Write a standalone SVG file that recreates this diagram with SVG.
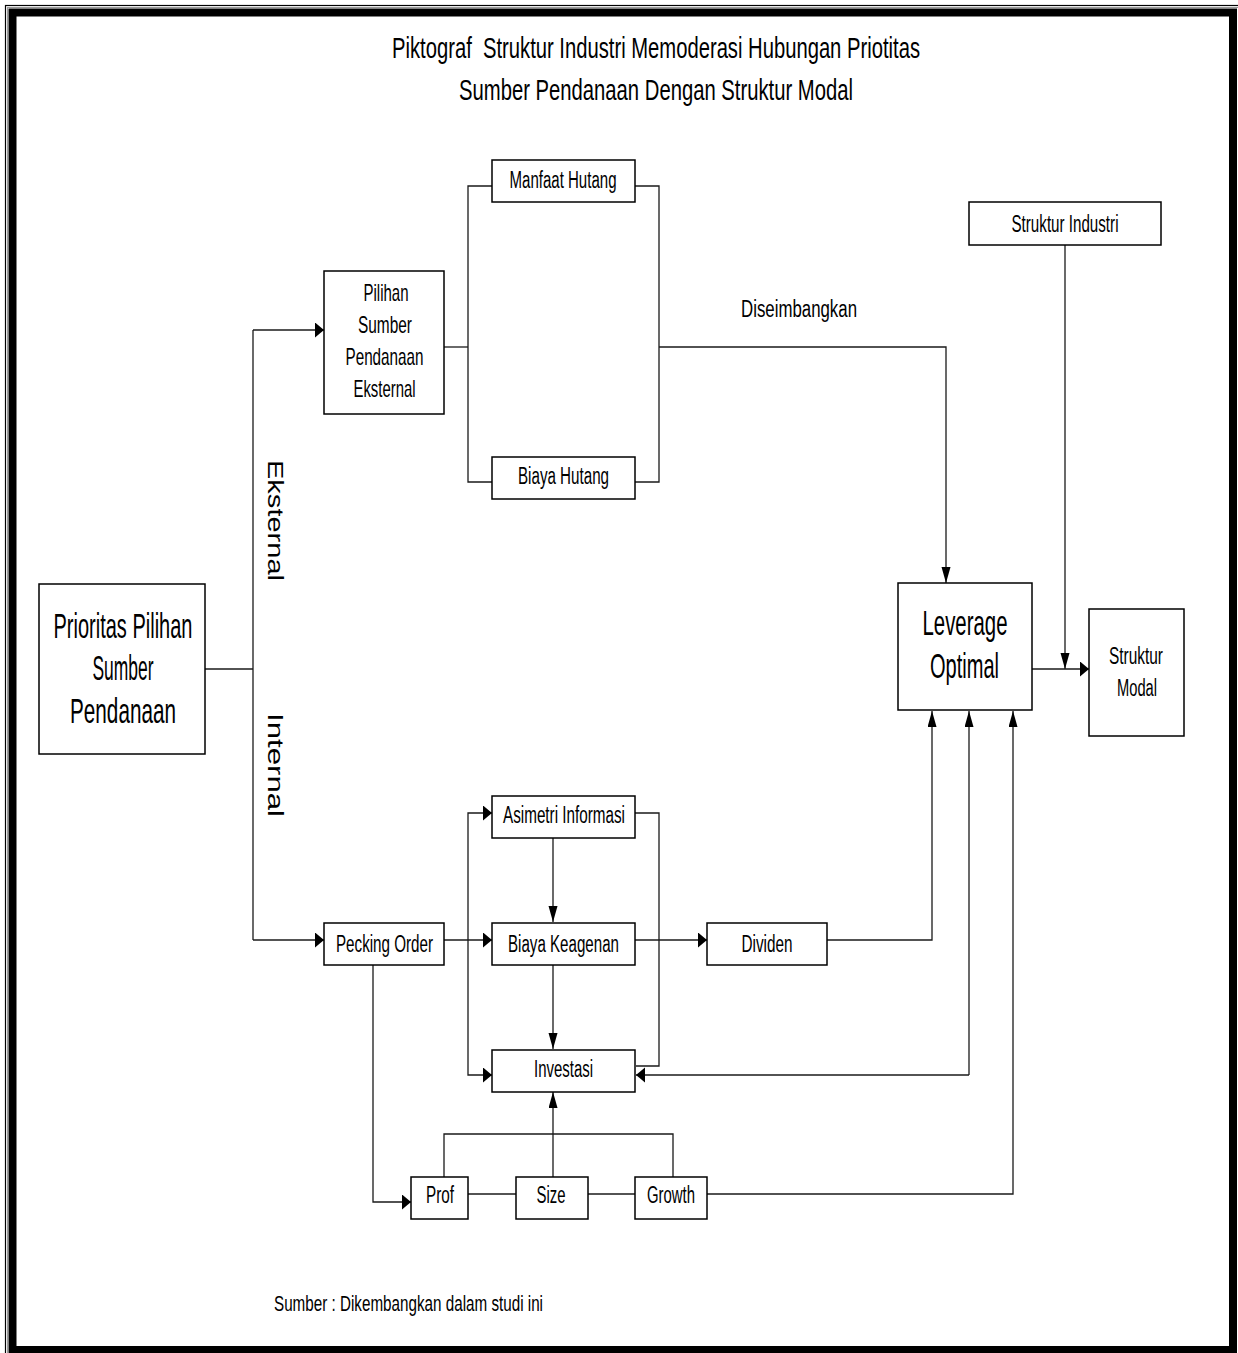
<svg xmlns="http://www.w3.org/2000/svg" width="1238" height="1353" viewBox="0 0 1238 1353">
  <style>
    .box { fill: #ffffff; stroke: #000000; stroke-width: 1.5; }
    .lbl { font-family: "Liberation Sans", Arial, sans-serif; font-size: 23px; fill: #000000; text-anchor: middle; }
    .big { font-size: 35px; }
    .ttl { font-family: "Liberation Sans", Arial, sans-serif; font-size: 30px; fill: #000000; text-anchor: middle; }
    .free { font-family: "Liberation Sans", Arial, sans-serif; font-size: 23px; fill: #000000; }
    .side { font-family: "Liberation Sans", Arial, sans-serif; font-size: 22px; fill: #000000; }
    .wire { fill: none; stroke: #1a1a1a; stroke-width: 1.3; }
    .ah { marker-end: url(#arrowH); }
    .av { marker-end: url(#arrowV); }
  </style>
  <defs>
    <!-- short, wide head for horizontal runs -->
    <marker id="arrowH" markerUnits="userSpaceOnUse" markerWidth="10" markerHeight="16" refX="9" refY="7.5" orient="auto">
      <path d="M0,0 L9,7.5 L0,15 z" fill="#000000"/>
    </marker>
    <!-- long, narrow head for vertical runs -->
    <marker id="arrowV" markerUnits="userSpaceOnUse" markerWidth="17" markerHeight="10" refX="16" refY="4.5" orient="auto">
      <path d="M0,0 L16,4.5 L0,9 z" fill="#000000"/>
    </marker>
  </defs>

  <rect x="0" y="0" width="1238" height="1353" fill="#ffffff"/>

  <!-- page frame -->
  <g id="frame">
    <rect x="5.5" y="5.5" width="1240" height="1360" fill="none" stroke="#000000" stroke-width="1.2"/>
    <rect x="7.5" y="7.5" width="1236" height="1356" fill="none" stroke="#9a9a9a" stroke-width="1"/>
    <rect x="12.5" y="12.5" width="1220.5" height="1337.5" fill="none" stroke="#000000" stroke-width="8"/>
  </g>

  <!-- title -->
  <g id="title">
    <text class="ttl" xml:space="preserve" x="656" y="58" textLength="528" lengthAdjust="spacingAndGlyphs">Piktograf  Struktur Industri Memoderasi Hubungan Priotitas</text>
    <text class="ttl" x="656" y="100" textLength="394" lengthAdjust="spacingAndGlyphs">Sumber Pendanaan Dengan Struktur Modal</text>
  </g>

  <!-- connectors -->
  <g id="connectors">
    <path class="wire" d="M205,669 H253"/>
    <path class="wire" d="M253,669 V330"/>
    <path class="wire" d="M253,669 V940"/>
    <path class="wire ah" d="M253,330 H324"/>
    <path class="wire ah" d="M253,940 H324"/>

    <path class="wire" d="M444,347 H468"/>
    <path class="wire" d="M492,186 H468 V482 H492"/>
    <path class="wire" d="M635,186 H659 V482 H635"/>
    <path class="wire av" d="M659,347 H946 V583"/>

    <path class="wire av" d="M1065,245 V669"/>
    <path class="wire ah" d="M1032,669 H1089"/>

    <path class="wire ah" d="M444,940 H492"/>
    <path class="wire ah" d="M468,940 V813 H492"/>
    <path class="wire ah" d="M468,940 V1075 H492"/>
    <path class="wire av" d="M553,838 V922"/>
    <path class="wire av" d="M553,965 V1049"/>
    <path class="wire" d="M635,813 H659 V1066 H636"/>
    <path class="wire ah" d="M635,940 H707"/>

    <path class="wire av" d="M827,940 H932 V711"/>
    <path class="wire av" d="M969,1075 V711"/>
    <path class="wire ah" d="M969,1075 H636"/>
    <path class="wire av" d="M707,1194 H1013 V711"/>

    <path class="wire" d="M468,1194 H516"/>
    <path class="wire" d="M588,1194 H635"/>
    <path class="wire" d="M444,1177 V1134 H673 V1177"/>
    <path class="wire av" d="M553,1177 V1092"/>
    <path class="wire ah" d="M373,965 V1202 H411"/>
  </g>

  <!-- branch labels -->
  <g id="labels">
    <text class="side" transform="translate(268,460) rotate(90)" textLength="121" lengthAdjust="spacingAndGlyphs">Eksternal</text>
    <text class="side" transform="translate(268,713) rotate(90)" textLength="104" lengthAdjust="spacingAndGlyphs">Internal</text>
    <text class="free" x="741" y="317" textLength="116" lengthAdjust="spacingAndGlyphs">Diseimbangkan</text>
  </g>

  <!-- nodes -->
  <g id="prioritas">
    <rect class="box" x="39" y="584" width="166" height="170"/>
    <text class="lbl big" x="123" y="638" textLength="139" lengthAdjust="spacingAndGlyphs">Prioritas Pilihan</text>
    <text class="lbl big" x="123" y="680" textLength="61" lengthAdjust="spacingAndGlyphs">Sumber</text>
    <text class="lbl big" x="123" y="723" textLength="106" lengthAdjust="spacingAndGlyphs">Pendanaan</text>
  </g>

  <g id="pilihan">
    <rect class="box" x="324" y="271" width="120" height="143"/>
    <text class="lbl" style="font-size:24px" x="386" y="301" textLength="45" lengthAdjust="spacingAndGlyphs">Pilihan</text>
    <text class="lbl" style="font-size:24px" x="385" y="333" textLength="54" lengthAdjust="spacingAndGlyphs">Sumber</text>
    <text class="lbl" style="font-size:24px" x="384.5" y="365" textLength="78" lengthAdjust="spacingAndGlyphs">Pendanaan</text>
    <text class="lbl" style="font-size:24px" x="384.5" y="397" textLength="62" lengthAdjust="spacingAndGlyphs">Eksternal</text>
  </g>

  <g id="manfaat-hutang">
    <rect class="box" x="492" y="160" width="143" height="42"/>
    <text class="lbl" x="563" y="188" textLength="107" lengthAdjust="spacingAndGlyphs">Manfaat Hutang</text>
  </g>

  <g id="biaya-hutang">
    <rect class="box" x="492" y="457" width="143" height="42"/>
    <text class="lbl" x="563.5" y="484" textLength="91" lengthAdjust="spacingAndGlyphs">Biaya Hutang</text>
  </g>

  <g id="struktur-industri">
    <rect class="box" x="969" y="202" width="192" height="43"/>
    <text class="lbl" x="1065" y="232" textLength="107" lengthAdjust="spacingAndGlyphs">Struktur Industri</text>
  </g>

  <g id="leverage-optimal">
    <rect class="box" x="898" y="583" width="134" height="127"/>
    <text class="lbl big" x="965" y="635" textLength="85" lengthAdjust="spacingAndGlyphs">Leverage</text>
    <text class="lbl big" x="964.5" y="678" textLength="69" lengthAdjust="spacingAndGlyphs">Optimal</text>
  </g>

  <g id="struktur-modal">
    <rect class="box" x="1089" y="609" width="95" height="127"/>
    <text class="lbl" x="1136" y="664" textLength="54" lengthAdjust="spacingAndGlyphs">Struktur</text>
    <text class="lbl" x="1137" y="696" textLength="40" lengthAdjust="spacingAndGlyphs">Modal</text>
  </g>

  <g id="asimetri-informasi">
    <rect class="box" x="492" y="796" width="143" height="42"/>
    <text class="lbl" x="564" y="823" textLength="122" lengthAdjust="spacingAndGlyphs">Asimetri Informasi</text>
  </g>

  <g id="pecking-order">
    <rect class="box" x="324" y="923" width="120" height="42"/>
    <text class="lbl" x="384.5" y="952" textLength="97" lengthAdjust="spacingAndGlyphs">Pecking Order</text>
  </g>

  <g id="biaya-keagenan">
    <rect class="box" x="492" y="923" width="143" height="42"/>
    <text class="lbl" x="563.5" y="952" textLength="111" lengthAdjust="spacingAndGlyphs">Biaya Keagenan</text>
  </g>

  <g id="dividen">
    <rect class="box" x="707" y="923" width="120" height="42"/>
    <text class="lbl" x="767" y="952" textLength="51" lengthAdjust="spacingAndGlyphs">Dividen</text>
  </g>

  <g id="investasi">
    <rect class="box" x="492" y="1050" width="143" height="42"/>
    <text class="lbl" x="563.5" y="1077" textLength="59" lengthAdjust="spacingAndGlyphs">Investasi</text>
  </g>

  <g id="prof">
    <rect class="box" x="411" y="1177" width="57" height="42"/>
    <text class="lbl" x="440" y="1203" textLength="28" lengthAdjust="spacingAndGlyphs">Prof</text>
  </g>

  <g id="size">
    <rect class="box" x="516" y="1177" width="72" height="42"/>
    <text class="lbl" x="551" y="1203" textLength="29" lengthAdjust="spacingAndGlyphs">Size</text>
  </g>

  <g id="growth">
    <rect class="box" x="635" y="1177" width="72" height="42"/>
    <text class="lbl" x="671" y="1203" textLength="48" lengthAdjust="spacingAndGlyphs">Growth</text>
  </g>

  <!-- source note -->
  <text class="free" style="font-size:22px" x="274" y="1311" textLength="269" lengthAdjust="spacingAndGlyphs">Sumber : Dikembangkan dalam studi ini</text>
</svg>
